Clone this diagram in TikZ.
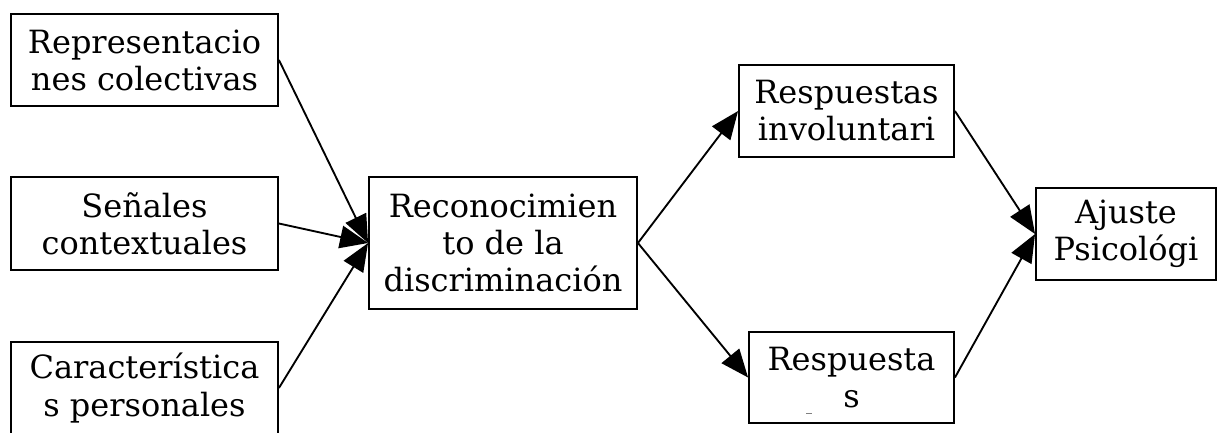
\documentclass[tikz,border=0pt]{standalone}
\usepackage{fontspec}
\setmainfont{DejaVu Serif}
\usetikzlibrary{arrows.meta}
\tikzset{
  box/.style={draw, line width=1.4pt, align=center, inner sep=0pt,
    font=\fontsize{24}{27.8}\selectfont},
  arr/.style={line width=1.4pt, -{Triangle[length=21pt,width=17pt]}}
}
\begin{document}
\begin{tikzpicture}[x=0.75pt,y=-0.75pt]
    \useasboundingbox (0,0) rectangle (1217,432);
    \clip (0,0) rectangle (1217,432);
    \node[box, minimum width=200.25pt, minimum height=69pt] (rc) at (144.5,60) {Representacio\\nes colectivas};
    \node[box, minimum width=200.25pt, minimum height=69.75pt] (sc) at (144.5,223.5) {Señales\\contextuales};
    \node[box, minimum width=200.25pt, minimum height=69pt] (cp) at (144.5,388) {Característica\\s personales};
    \node[box, minimum width=201pt, minimum height=99pt] (rd) at (503,243) {Reconocimien\\to de la\\discriminación};
    \node[box, minimum width=161.25pt, minimum height=69pt] (ri) at (846.5,111) {Respuestas\\involuntari};
    \node[box, minimum width=153.75pt, minimum height=68.25pt] (rs) at (851.5,377.5) {Respuesta\\s};
    \node[box, minimum width=135pt, minimum height=69pt] (ap) at (1126,234) {Ajuste\\Psicológi};
    \draw [arr] (rc.east) -- (rd.west);
    \draw [arr] (sc.east) -- (rd.west);
    \draw [arr] (cp.east) -- (rd.west);
    \draw [arr] (rd.east) -- (ri.west);
    \draw [arr] (rd.east) -- (rs.west);
    \draw [arr] (ri.east) -- (ap.west);
    \draw [arr] (rs.east) -- (ap.west);
    % resto recortado del texto
    \draw [line width=0.6pt, gray] (806,413) -- (812,413);
  \end{tikzpicture}
\end{document}
